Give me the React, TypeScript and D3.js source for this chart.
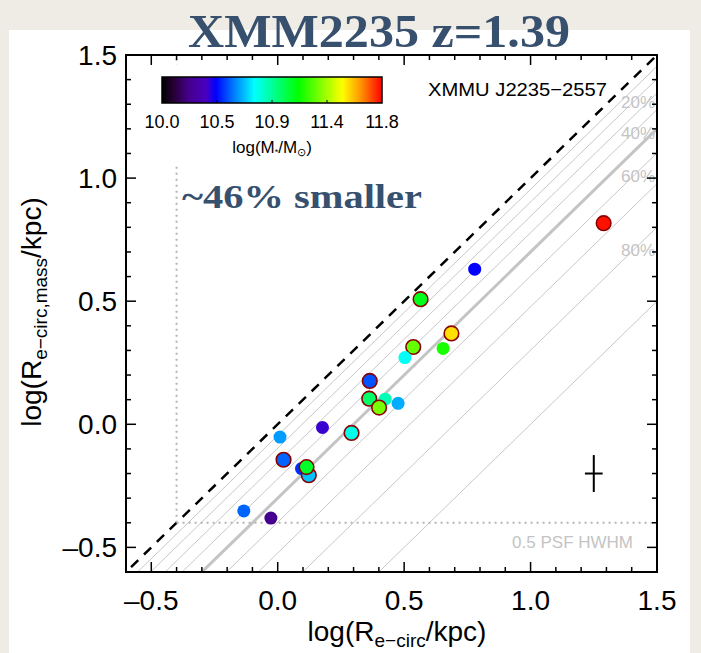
import React from 'react';
import * as d3 from 'd3';

// ---------- data ----------
const xDomain = [-0.6, 1.5];
const yDomain = [-0.6, 1.5];
const majorTicks = [-0.5, 0.0, 0.5, 1.0, 1.5];
const majorTickLabels = ['–0.5', '0.0', '0.5', '1.0', '1.5'];
const minorTicks = [-0.6, -0.4, -0.3, -0.2, -0.1, 0.1, 0.2, 0.3, 0.4, 0.6, 0.7, 0.8, 0.9, 1.1, 1.2, 1.3, 1.4];

const reductionFractions = [0.1, 0.2, 0.3, 0.4, 0.5, 0.6, 0.7, 0.8, 0.9];
const labelledFractions = [0.2, 0.4, 0.6, 0.8];
const labelledFractionTexts = ['20%', '40%', '60%', '80%'];
const medianOffset = -0.30;
const psfLimit = -0.4;

const galaxyX = [1.289, 0.779, 0.565, 0.687, 0.536, 0.503, 0.654, 0.364, 0.425, 0.362, 0.401, 0.476, 0.177, 0.292, 0.009, 0.023, 0.094, 0.123, 0.114, -0.134, -0.027];
const galaxyY = [0.817, 0.630, 0.508, 0.369, 0.314, 0.271, 0.308, 0.176, 0.102, 0.104, 0.068, 0.085, -0.013, -0.035, -0.052, -0.144, -0.180, -0.207, -0.174, -0.352, -0.381];
const galaxyMass = [11.78, 10.44, 11.08, 11.52, 11.26, 10.77, 11.15, 10.54, 10.86, 10.97, 11.28, 10.65, 10.38, 10.79, 10.63, 10.56, 10.50, 10.68, 11.06, 10.56, 10.23];
const galaxyOutlined = [true, false, true, true, true, false, false, true, false, true, true, false, false, true, false, true, false, true, true, false, false];

const errorBarX = 1.25;
const errorBarY = -0.2;
const errorBarDx = 0.035;
const errorBarDy = 0.075;

const massMin = 10.0;
const massMax = 11.8;
const colorbarTickValues = [10.0, 10.45, 10.9, 11.35, 11.8];
const colorbarTickLabels = ['10.0', '10.5', '10.9', '11.4', '11.8'];
const cmapPositions = [0, 0.05, 0.12, 0.2, 0.245, 0.33, 0.42, 0.52, 0.62, 0.72, 0.82, 0.9, 1.0];
const cmapColors = ['#000000', '#250030', '#45008a', '#4a00c0', '#0000ff', '#0080ff', '#00ffff', '#00ff80', '#00ff00', '#80ff00', '#ffff00', '#ff9900', '#ff0000'];

// ---------- layout ----------
const W = 701;
const H = 653;
const L = 126, R = 657, T = 55, B = 572;

export default function App() {
  const x = d3.scaleLinear().domain(xDomain).range([L, R]);
  const y = d3.scaleLinear().domain(yDomain).range([B, T]);
  const cmap = d3.scaleLinear<string>().domain(cmapPositions).range(cmapColors).interpolate(d3.interpolateRgb);
  const massT = d3.scaleLinear().domain([massMin, massMax]).range([0, 1]).clamp(true);
  const cbX = d3.scaleLinear().domain([massMin, massMax]).range([162, 382]);
  const line = d3.line<[number, number]>().x(d => x(d[0])).y(d => y(d[1]));
  const offLine = (c: number) => line([[xDomain[0] - 1, xDomain[0] - 1 + c], [xDomain[1] + 1, xDomain[1] + 1 + c]]) || '';

  const axisFont = 'Liberation Sans, Helvetica, Arial, sans-serif';
  const serif = 'Liberation Serif, Times New Roman, serif';
  const slate = '#37506e';

  return (
    <svg width={W} height={H} style={{ position: 'absolute', left: 0, top: 0 }} xmlns="http://www.w3.org/2000/svg">
      <defs>
        <clipPath id="plotclip"><rect x={L} y={T} width={R - L} height={B - T} /></clipPath>
        <linearGradient id="cbgrad" x1="0" x2="1" y1="0" y2="0">
          {cmapPositions.map((p, i) => <stop key={i} offset={p} stopColor={cmapColors[i]} />)}
        </linearGradient>
      </defs>
      <rect x={0} y={0} width={W} height={H} fill="#efebe5" />
      <rect x={9} y={30} width={681} height={H - 30} fill="#ffffff" />

      {/* title */}
      <text x={379} y={47} textAnchor="middle" fontFamily={serif} fontWeight="bold" fontSize={47} fill={slate} textLength={382} lengthAdjust="spacingAndGlyphs">XMM2235 z=1.39</text>

      {/* reference lines */}
      <g clipPath="url(#plotclip)">
        {reductionFractions.map((f, i) => (
          <path key={i} d={offLine(Math.log10(1 - f))} stroke="#c8c8c8" strokeWidth={1} fill="none" />
        ))}
        <path d={offLine(medianOffset)} stroke="#c4c4c4" strokeWidth={3} fill="none" />
        <path d={offLine(0)} stroke="#000" strokeWidth={2.5} strokeDasharray="10,8" fill="none" />
        {/* PSF limits */}
        <line x1={x(psfLimit)} x2={x(psfLimit)} y1={y(psfLimit)} y2={T} stroke="#b4b4b4" strokeWidth={2} strokeDasharray="2,4" />
        <line x1={x(psfLimit)} x2={R} y1={y(psfLimit)} y2={y(psfLimit)} stroke="#b4b4b4" strokeWidth={2} strokeDasharray="2,4" />
      </g>

      {labelledFractions.map((f, i) => (
        <text key={i} x={655} y={y(1.43 + Math.log10(1 - f)) + 12} textAnchor="end" fontFamily={axisFont} fontSize={17} fill="#c4c4c4">{labelledFractionTexts[i]}</text>
      ))}
      <text x={633} y={548} textAnchor="end" fontFamily={axisFont} fontSize={17} fill="#c4c4c4">0.5 PSF HWHM</text>

      {/* colorbar box */}
      <rect x={150} y={65} width={245} height={98} fill="#fff" />
      <rect x={cbX(massMin)} y={77} width={cbX(massMax) - cbX(massMin)} height={26} fill="url(#cbgrad)" stroke="#000" strokeWidth={1.5} />
      {colorbarTickValues.slice(1, -1).map((v, i) => (
        <line key={i} x1={cbX(v)} x2={cbX(v)} y1={103} y2={100} stroke="#000" strokeWidth={1} />
      ))}
      {colorbarTickValues.map((v, i) => (
        <text key={i} x={cbX(v)} y={128} textAnchor="middle" fontFamily={axisFont} fontSize={18} fill="#000">{colorbarTickLabels[i]}</text>
      ))}
      <text x={272} y={153} textAnchor="middle" fontFamily={axisFont} fontSize={17} fill="#000">
        log(M<tspan fontSize={9} dy={2}>*</tspan><tspan dy={-2}>/M</tspan><tspan fontSize={11} dy={3}>⊙</tspan><tspan dy={-3}>)</tspan>
      </text>

      <text x={428} y={96} fontFamily={axisFont} fontSize={19} fill="#000" textLength={179} lengthAdjust="spacingAndGlyphs">XMMU J2235−2557</text>

      <text x={182} y={208} fontFamily={serif} fontWeight="bold" fontSize={34} fill={slate} textLength={240} lengthAdjust="spacingAndGlyphs">~46% smaller</text>

      {/* galaxies */}
      {galaxyX.map((gx, i) => (
        <circle key={i} cx={x(gx)} cy={y(galaxyY[i])} r={galaxyOutlined[i] ? 7.3 : 6.5}
          fill={cmap(massT(galaxyMass[i]))}
          stroke={galaxyOutlined[i] ? '#8a0000' : 'none'} strokeWidth={galaxyOutlined[i] ? 1.6 : 0} />
      ))}

      {/* error bar */}
      <line x1={x(errorBarX - errorBarDx)} x2={x(errorBarX + errorBarDx)} y1={y(errorBarY)} y2={y(errorBarY)} stroke="#000" strokeWidth={2} />
      <line x1={x(errorBarX)} x2={x(errorBarX)} y1={y(errorBarY - errorBarDy)} y2={y(errorBarY + errorBarDy)} stroke="#000" strokeWidth={2} />

      {/* ticks */}
      {majorTicks.map((v, i) => (
        <g key={'mj' + i}>
          <line x1={x(v)} x2={x(v)} y1={B} y2={B - 10} stroke="#000" strokeWidth={1.5} />
          <line x1={x(v)} x2={x(v)} y1={T} y2={T + 10} stroke="#000" strokeWidth={1.5} />
          <line x1={L} x2={L + 10} y1={y(v)} y2={y(v)} stroke="#000" strokeWidth={1.5} />
          <line x1={R} x2={R - 10} y1={y(v)} y2={y(v)} stroke="#000" strokeWidth={1.5} />
          <text x={x(v)} y={610} textAnchor="middle" fontFamily={axisFont} fontSize={28} fill="#000">{majorTickLabels[i]}</text>
          <text x={117} y={y(v) + 10} textAnchor="end" fontFamily={axisFont} fontSize={28} fill="#000">{majorTickLabels[i]}</text>
        </g>
      ))}
      {minorTicks.map((v, i) => (
        <g key={'mn' + i}>
          <line x1={x(v)} x2={x(v)} y1={B} y2={B - 5} stroke="#000" strokeWidth={1.5} />
          <line x1={x(v)} x2={x(v)} y1={T} y2={T + 5} stroke="#000" strokeWidth={1.5} />
          <line x1={L} x2={L + 5} y1={y(v)} y2={y(v)} stroke="#000" strokeWidth={1.5} />
          <line x1={R} x2={R - 5} y1={y(v)} y2={y(v)} stroke="#000" strokeWidth={1.5} />
        </g>
      ))}
      <rect x={L} y={T} width={R - L} height={B - T} fill="none" stroke="#000" strokeWidth={2} />

      {/* axis titles */}
      <text x={397} y={641} textAnchor="middle" fontFamily={axisFont} fontSize={28} fill="#000">
        log(R<tspan fontSize={19} dy={6}>e−circ</tspan><tspan dy={-6}>/kpc)</tspan>
      </text>
      <text transform="translate(41,312) rotate(-90)" textAnchor="middle" fontFamily={axisFont} fontSize={28} fill="#000">
        log(R<tspan fontSize={19} dy={6}>e−circ,mass</tspan><tspan dy={-6}>/kpc)</tspan>
      </text>
    </svg>
  );
}
